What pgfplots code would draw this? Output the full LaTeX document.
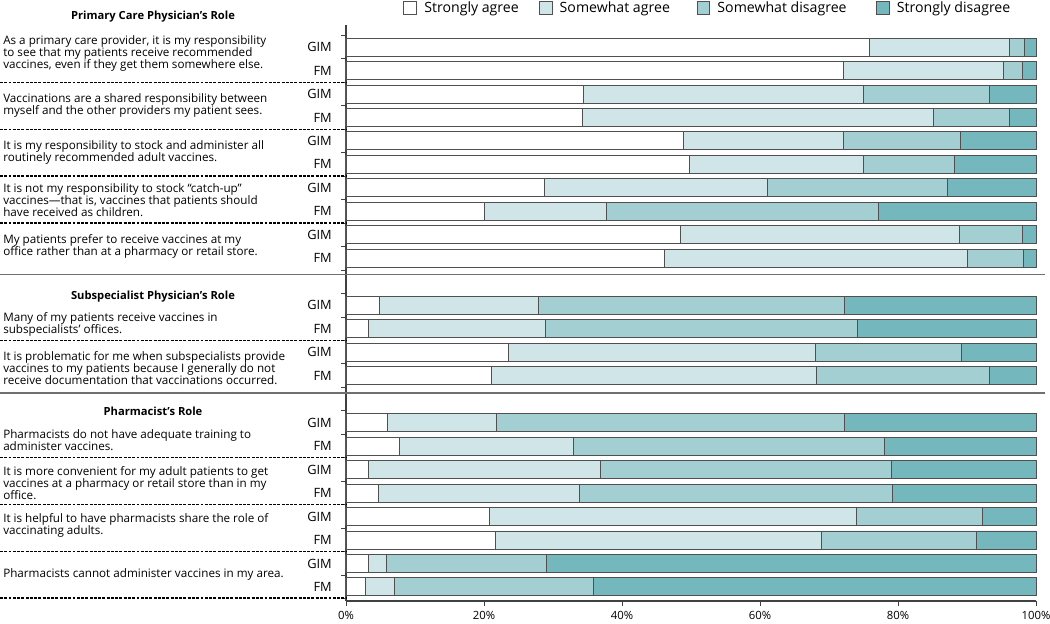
\documentclass[border=0pt]{standalone}
\usepackage{pgfplots}
\pgfplotsset{compat=1.18}
\usepackage{pgfplotstable}
\usepackage{fontspec}
\setmainfont{Open Sans}
\definecolor{cSA}{HTML}{FFFFFF}
\definecolor{cSwA}{HTML}{CFE5E8}
\definecolor{cSwD}{HTML}{A3CFD3}
\definecolor{cSD}{HTML}{74B8BD}
\definecolor{edge}{HTML}{505050}
\definecolor{sep}{HTML}{707070}
\newcommand\lbl{\fontsize{8.75pt}{9pt}\selectfont}
\newcommand\grp{\fontsize{9.6pt}{10pt}\selectfont}
\newcommand\ttl{\fontsize{8.4pt}{9pt}\selectfont\bfseries}
\newcommand\gap[1]{\rule{#1}{0pt}}
\pgfplotstableread{
row SA SwA SwD SD
1 75.8 20.3 2.2 1.7
2 72.1 23.2 2.8 1.9
3 34.4 40.6 18.2 6.8
4 34.3 50.9 10.9 3.9
5 48.9 23.2 17.0 10.9
6 49.8 25.2 13.2 11.8
7 28.7 32.4 26.0 12.9
8 20.0 17.8 39.4 22.8
9 48.5 40.4 9.1 2.0
10 46.2 43.9 8.1 1.8
12 4.9 23.0 44.3 27.8
13 3.2 25.7 45.2 25.9
14 23.5 44.5 21.2 10.8
15 21.1 47.1 25.0 6.8
17 6.0 15.8 50.4 27.8
18 7.7 25.2 45.2 21.9
19 3.2 33.7 42.2 20.9
20 4.7 29.2 45.3 20.8
21 20.8 53.2 18.2 7.8
22 21.7 47.2 22.4 8.7
23 3.2 2.7 23.1 71.0
24 2.8 4.2 28.8 64.2
}\data
\begin{document}
\begin{tikzpicture}
\path[use as bounding box] (0,0) rectangle (787.5pt,468pt);
\begin{axis}[
  at={(259.5pt,17.25pt)}, anchor=south west,
  scale only axis, width=517.5pt, height=432pt,
  xbar stacked, bar width=13.5pt,
  xmin=0, xmax=100, ymin=0.06, ymax=24.6, y dir=reverse,
  axis x line*=bottom, axis y line*=left,
  axis line style={draw=black!75, line width=0.8pt},
  xtick={0,20,...,100},
  xticklabels={0\%,20\%,40\%,60\%,80\%,100\%},
  ytick={0.5,1.5,...,24.5}, yticklabels={},
  tick align=outside, major tick length=3.5pt,
  tick style={draw=black!75, line width=0.7pt},
  x tick label style={font=\fontsize{8.5pt}{10pt}\selectfont, yshift=-1pt},
  clip=false,
  every axis plot/.append style={draw=edge, line width=0.7pt},
  legend columns=4,
  legend style={at={(rel axis cs:0.525,1)}, anchor=center, yshift=12.75pt,
    draw=none, fill=none, font=\fontsize{10.6pt}{12pt}\selectfont,
    column sep=0pt},
  legend image code/.code={\draw[#1, draw=edge, line width=0.6pt] (0pt,-4.9pt) rectangle (9.5pt,4.9pt); \path (13pt,0pt);},
]
\addplot[fill=cSA] table[x=SA,y=row]{\data};
\addlegendentry{Strongly agree\gap{13pt}}
\addplot[fill=cSwA] table[x=SwA,y=row]{\data};
\addlegendentry{Somewhat agree\gap{18pt}}
\addplot[fill=cSwD] table[x=SwD,y=row]{\data};
\addlegendentry{Somewhat disagree\gap{20pt}}
\addplot[fill=cSD] table[x=SD,y=row]{\data};
\addlegendentry{Strongly disagree}

% GIM / FM labels
\pgfplotsinvokeforeach{1,3,5,7,9,12,14,17,19,21,23}{
  \node[anchor=east, inner sep=0pt, xshift=-10.5pt, font=\grp] at (axis cs:0,#1) {GIM};
}
\pgfplotsinvokeforeach{2,4,6,8,10,13,15,18,20,22,24}{
  \node[anchor=east, inner sep=0pt, xshift=-10.5pt, font=\grp] at (axis cs:0,#1) {FM};
}
% dashed separators
\pgfplotsinvokeforeach{2.5,4.5,6.5,8.5,13.5,18.5,20.5,22.5,24.47}{
  \draw[black, line width=1pt, dash pattern=on 2.2pt off 1pt] ([xshift=-259.5pt]axis cs:0,#1) -- (axis cs:0,#1);
}
% solid section separators
\pgfplotsinvokeforeach{10.68,15.74}{
  \draw[sep, line width=0.9pt] ([xshift=-259.5pt]axis cs:0,#1) -- ([xshift=6.75pt]axis cs:100,#1);
}
% section titles
\node[font=\ttl, inner sep=0pt] at ([xshift=-144.75pt]axis cs:0,-0.28) {Primary Care Physician’s Role};
\node[font=\ttl, inner sep=0pt] at ([xshift=-144.75pt]axis cs:0,11.65) {Subspecialist Physician’s Role};
\node[font=\ttl, inner sep=0pt] at ([xshift=-144.75pt]axis cs:0,16.5) {Pharmacist’s Role};
% question texts
\tikzset{q/.style={anchor=west, align=left, inner sep=0pt, font=\lbl, xshift=-257.25pt}}
\node[q] at (axis cs:0,1.26) {As a primary care provider, it is my responsibility\\to see that my patients receive recommended\\vaccines, even if they get them somewhere else.};
\node[q] at (axis cs:0,3.47) {Vaccinations are a shared responsibility between\\myself and the other providers my patient sees.};
\node[q] at (axis cs:0,5.47) {It is my responsibility to stock and administer all\\routinely recommended adult vaccines.};
\node[q] at (axis cs:0,7.52) {It is not my responsibility to stock “catch-up”\\vaccines—that is, vaccines that patients should\\have received as children.};
\node[q] at (axis cs:0,9.48) {My patients prefer to receive vaccines at my\\office rather than at a pharmacy or retail store.};
\node[q] at (axis cs:0,12.80) {Many of my patients receive vaccines in\\subspecialists’ offices.};
\node[q] at (axis cs:0,14.67) {It is problematic for me when subspecialists provide\\vaccines to my patients because I generally do not\\receive documentation that vaccinations occurred.};
\node[q] at (axis cs:0,17.74) {Pharmacists do not have adequate training to\\administer vaccines.};
\node[q] at (axis cs:0,19.57) {It is more convenient for my adult patients to get\\vaccines at a pharmacy or retail store than in my\\office.};
\node[q] at (axis cs:0,21.36) {It is helpful to have pharmacists share the role of\\vaccinating adults.};
\node[q] at (axis cs:0,23.49) {Pharmacists cannot administer vaccines in my area.};
\end{axis}
\end{tikzpicture}
\end{document}
